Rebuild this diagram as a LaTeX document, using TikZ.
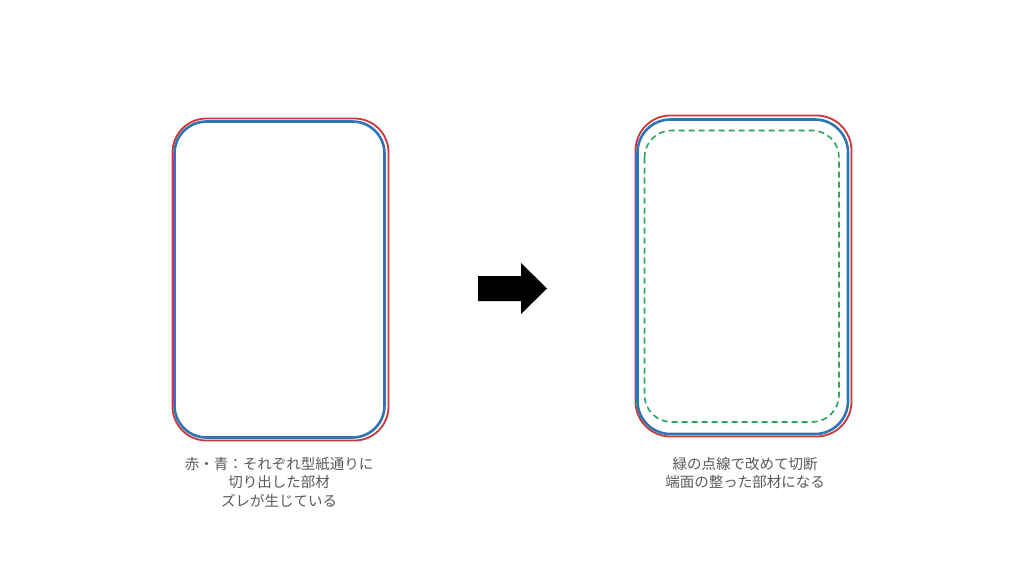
\documentclass[tikz,border=0pt]{standalone}
\usepackage{fontspec}
\newfontfamily\cjk{Noto Sans CJK JP}
\definecolor{cutred}{RGB}{205,55,55}
\definecolor{cutblue}{RGB}{46,117,182}
\definecolor{cutgreen}{RGB}{40,165,95}
\definecolor{captiongray}{RGB}{89,89,89}
\begin{document}
\begin{tikzpicture}[x=1pt,y=-1pt,
  redline/.style={draw=cutred,line width=1.8pt},
  blueline/.style={draw=cutblue,line width=2.6pt},
  greenline/.style={draw=cutgreen,line width=1.6pt,dash pattern=on 6pt off 4pt},
  caption/.style={text=captiongray,font=\cjk\fontsize{14.5}{18.5}\selectfont,align=center,inner sep=0pt}]
\useasboundingbox[fill=white] (0,0) rectangle (1024,576);
% left card
\draw[redline,rounded corners=34pt] (172.5,118.5) rectangle (388.5,440.5);
\draw[blueline,rounded corners=32pt] (174.5,121.5) rectangle (384.5,437.5);
% right card
\draw[redline,rounded corners=35pt] (635.5,115.5) rectangle (851.5,436.5);
\draw[blueline,rounded corners=33pt] (637.5,119.5) rectangle (848,434);
\draw[greenline,rounded corners=27pt] (644.5,130.5) rectangle (839,422);
% arrow
\fill[black] (478,276) -- (521,276) -- (521,263) -- (547,288.5) -- (521,314) -- (521,301) -- (478,301) -- cycle;
% captions
\node[caption,anchor=north] (lefttext) at (279,457) {赤・青：それぞれ型紙通りに\\切り出した部材\\ズレが生じている};
\node[caption,anchor=north] (righttext) at (745,457) {緑の点線で改めて切断\\端面の整った部材になる};
\end{tikzpicture}
\end{document}
